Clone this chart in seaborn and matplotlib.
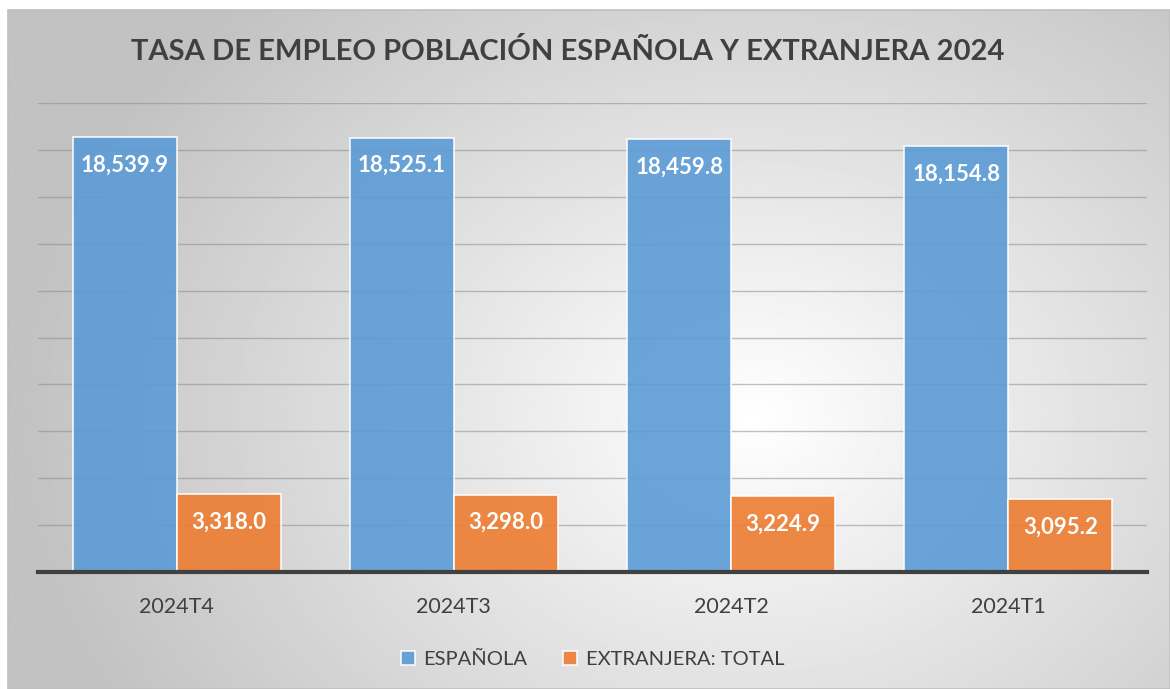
#!/usr/bin/env python3

import matplotlib
matplotlib.use("Agg")
import matplotlib.pyplot as plt
from matplotlib.patches import Rectangle
import numpy as np
import pandas as pd
import seaborn as sns

# data
trimestres = ["2024T4", "2024T3", "2024T2", "2024T1"]
espanola = [18539.9, 18525.1, 18459.8, 18154.8]
extranjera = [3318.0, 3298.0, 3224.9, 3095.2]
series = ["ESPAÑOLA", "EXTRANJERA: TOTAL"]
titulo = "TASA DE EMPLEO POBLACIÓN ESPAÑOLA Y EXTRANJERA 2024"

BLUE = "#5B9BD5"
ORANGE = "#ED7D31"
TEXT = "#404040"

df = pd.DataFrame({
    "trimestre": trimestres * 2,
    "valor": espanola + extranjera,
    "serie": [series[0]] * 4 + [series[1]] * 4,
})

sns.set_theme(style="white")
plt.rcParams["font.family"] = ["Lato", "DejaVu Sans"]

fig = plt.figure(figsize=(11.7, 6.89), dpi=100)
fig.patch.set_facecolor("white")

# chart area background: radial gradient, framed
W, H = 1170, 689
left_px, top_px = 8, 10
bg = fig.add_axes([left_px / W, 0, 1 - left_px / W, 1 - top_px / H])
yy, xx = np.mgrid[0:1:300j, 0:1:500j]
dist = np.sqrt(((xx - 0.64) * 1.15) ** 2 + ((yy - 0.6) * 0.85) ** 2)
shade = np.clip(1.0 - 0.33 * dist, 0.76, 1.0)
bg.imshow(shade, cmap="gray", vmin=0, vmax=1, aspect="auto",
          extent=[0, 1, 0, 1], origin="upper")
bg.set_axis_off()
bg.add_patch(Rectangle((0, 0), 1, 1, transform=bg.transAxes, fill=False,
                       edgecolor="#BFBFBF", linewidth=1.2, clip_on=False))

ax = fig.add_axes([38 / W, 117 / H, (1147 - 38) / W, (572 - 103) / H])
ax.patch.set_alpha(0)

sns.barplot(data=df, x="trimestre", y="valor", hue="serie",
            palette=[BLUE, ORANGE], width=0.75, alpha=0.9,
            saturation=1, edgecolor=(1, 1, 1, 0.55), linewidth=1.2,
            ax=ax, zorder=3)

ax.set_ylim(0, 20000)
ax.set_yticks(range(2000, 20001, 2000))
ax.yaxis.grid(True, color="#8C8C8C", linewidth=1.0, alpha=0.55, zorder=1)
ax.set_axisbelow(True)
ax.tick_params(axis="y", left=False, labelleft=False)
ax.tick_params(axis="x", bottom=False, labelsize=15.5, labelcolor=TEXT, pad=12)
ax.set_xlabel("")
ax.set_ylabel("")
for side in ("top", "right", "left"):
    ax.spines[side].set_visible(False)
ax.spines["bottom"].set_color(TEXT)
ax.spines["bottom"].set_linewidth(3)
ax.spines["bottom"].set_zorder(5)

for container in ax.containers:
    texts = ax.bar_label(container,
                         labels=[f"{v:,.1f}" for v in container.datavalues],
                         padding=-20, color="white", fontsize=16,
                         fontweight="bold", zorder=6)
    for t in texts:
        t.set_va("center")

leg = ax.legend(loc="upper center", bbox_to_anchor=(0.5, -0.13), ncol=2,
                frameon=False, fontsize=14.5, handlelength=0.7,
                handleheight=0.7, handletextpad=0.4, columnspacing=1.8)
for t in leg.get_texts():
    t.set_color(TEXT)
for h in leg.legend_handles:
    h.set_alpha(0.9)
    h.set_edgecolor((1, 1, 1, 0.55))

fig.text(568 / W, 1 - 51 / H, titulo, ha="center", va="center",
         fontsize=21, fontweight="bold", color=TEXT)

fig.savefig("out.png", dpi=100)
